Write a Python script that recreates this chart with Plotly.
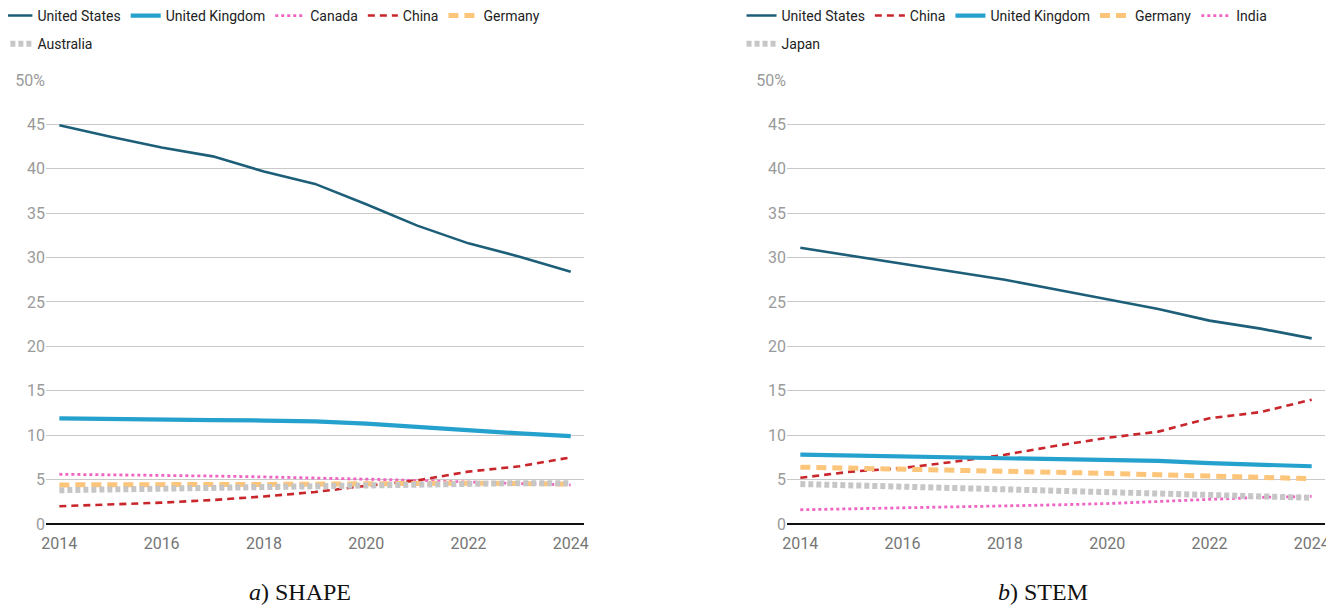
import plotly.graph_objects as go

years = list(range(2014, 2025))

# SHAPE panel (share of total, %)
shape_us = [44.9, 43.6, 42.4, 41.4, 39.7, 38.3, 36.0, 33.6, 31.6, 30.1, 28.4]
shape_uk = [11.9, 11.8, 11.75, 11.7, 11.65, 11.55, 11.3, 10.9, 10.5, 10.2, 9.9]
shape_canada = [5.6, 5.55, 5.5, 5.4, 5.3, 5.2, 5.05, 4.9, 4.7, 4.55, 4.4]
shape_china = [2.0, 2.2, 2.4, 2.7, 3.1, 3.6, 4.3, 4.9, 5.9, 6.5, 7.5]
shape_germany = [4.4, 4.45, 4.45, 4.45, 4.45, 4.5, 4.5, 4.55, 4.6, 4.55, 4.5]
shape_australia = [3.8, 3.9, 4.0, 4.1, 4.2, 4.3, 4.45, 4.55, 4.6, 4.6, 4.6]

# STEM panel
stem_us = [31.1, 30.2, 29.3, 28.4, 27.5, 26.4, 25.3, 24.2, 22.9, 22.0, 20.9]
stem_china = [5.2, 5.9, 6.3, 7.0, 7.8, 8.8, 9.7, 10.4, 11.9, 12.6, 14.0]
stem_uk = [7.8, 7.7, 7.6, 7.5, 7.4, 7.3, 7.2, 7.1, 6.85, 6.7, 6.5]
stem_germany = [6.4, 6.3, 6.2, 6.1, 6.0, 5.85, 5.7, 5.55, 5.35, 5.25, 5.1]
stem_india = [1.6, 1.7, 1.8, 1.9, 2.0, 2.15, 2.3, 2.55, 2.8, 3.0, 3.1]
stem_japan = [4.5, 4.4, 4.2, 4.05, 3.9, 3.75, 3.6, 3.45, 3.3, 3.15, 2.95]

y_ticks = [0, 5, 10, 15, 20, 25, 30, 35, 40, 45, 50]
y_labels = ["0", "5", "10", "15", "20", "25", "30", "35", "40", "45", "50%"]
x_ticks = [2014, 2016, 2018, 2020, 2022, 2024]

styles = {
    "United States": dict(color="#1d5f79", width=2.6, dash="solid"),
    "United Kingdom": dict(color="#24a1cc", width=4.2, dash="solid"),
    "Canada": dict(color="#f064c3", width=2.8, dash="3px,3px"),
    "India": dict(color="#f064c3", width=2.8, dash="3px,3px"),
    "China": dict(color="#c9262c", width=2.6, dash="7px,5px"),
    "Germany": dict(color="#fcc57a", width=5, dash="10px,6px"),
    "Australia": dict(color="#c6c6c6", width=6, dash="5px,3px"),
    "Japan": dict(color="#c6c6c6", width=6, dash="5px,3px"),
}

fig = go.Figure()

left = [("United States", shape_us), ("United Kingdom", shape_uk), ("Canada", shape_canada),
        ("China", shape_china), ("Germany", shape_germany), ("Australia", shape_australia)]
right = [("United States", stem_us), ("China", stem_china), ("United Kingdom", stem_uk),
         ("Germany", stem_germany), ("India", stem_india), ("Japan", stem_japan)]

for i, (name, vals) in enumerate(left):
    fig.add_trace(go.Scatter(x=years, y=vals, name=name, mode="lines", line=styles[name],
                             xaxis="x", yaxis="y", legend="legend" if i < 5 else "legend2",
                             legendrank=i))
for i, (name, vals) in enumerate(right):
    fig.add_trace(go.Scatter(x=years, y=vals, name=name, mode="lines", line=styles[name],
                             xaxis="x2", yaxis="y2", legend="legend3" if i < 5 else "legend4",
                             legendrank=i))

xax = dict(range=[2013.74, 2024.26], tickvals=x_ticks, showgrid=False, zeroline=False,
           tickfont=dict(family="Roboto", size=16, color="#757575"), ticks="",
           showline=False, automargin=False, ticklabelstandoff=8)
yax = dict(range=[0, 50], tickvals=y_ticks, ticktext=y_labels, showgrid=True,
           gridcolor="#c9c9c9", gridwidth=1.3, zeroline=True, zerolinecolor="#111111",
           zerolinewidth=1.5, tickfont=dict(family="Roboto", size=16, color="#9a9a9a"),
           ticks="", showline=False, automargin=False)

leg = dict(orientation="h", xanchor="left", yanchor="top", bgcolor="rgba(0,0,0,0)",
           font=dict(family="Roboto", size=14, color="#222222"), itemwidth=30,
           tracegroupgap=0, traceorder="normal")

# page body adds an 8px offset, so the figure is sized to stay inside the window
fig.update_layout(
    width=1326, height=599,
    margin=dict(l=0, r=0, t=0, b=0, autoexpand=False),
    plot_bgcolor="white", paper_bgcolor="white",
    xaxis=dict(domain=[0.0287, 0.4344], anchor="y", **xax),
    yaxis=dict(domain=[0.1386, 0.8798], anchor="x", **yax),
    xaxis2=dict(domain=[0.5875, 0.9932], anchor="y2", **xax),
    yaxis2=dict(domain=[0.1386, 0.8798], anchor="x2", **yax),
    legend=dict(x=-0.008, y=1.0134, **leg),
    legend2=dict(x=-0.008, y=0.9664, **leg),
    legend3=dict(x=0.5532, y=1.0134, **leg),
    legend4=dict(x=0.5532, y=0.9664, **leg),
    annotations=[
        dict(text="<i>a</i>) SHAPE", x=0.2202, y=0.025, xref="paper", yref="paper",
             xanchor="center", yanchor="middle", showarrow=False,
             font=dict(family="Liberation Serif", size=24, color="#111111")),
        dict(text="<i>b</i>) STEM", x=0.7805, y=0.025, xref="paper", yref="paper",
             xanchor="center", yanchor="middle", showarrow=False,
             font=dict(family="Liberation Serif", size=24, color="#111111")),
    ],
)

fig.write_html("out.html")
